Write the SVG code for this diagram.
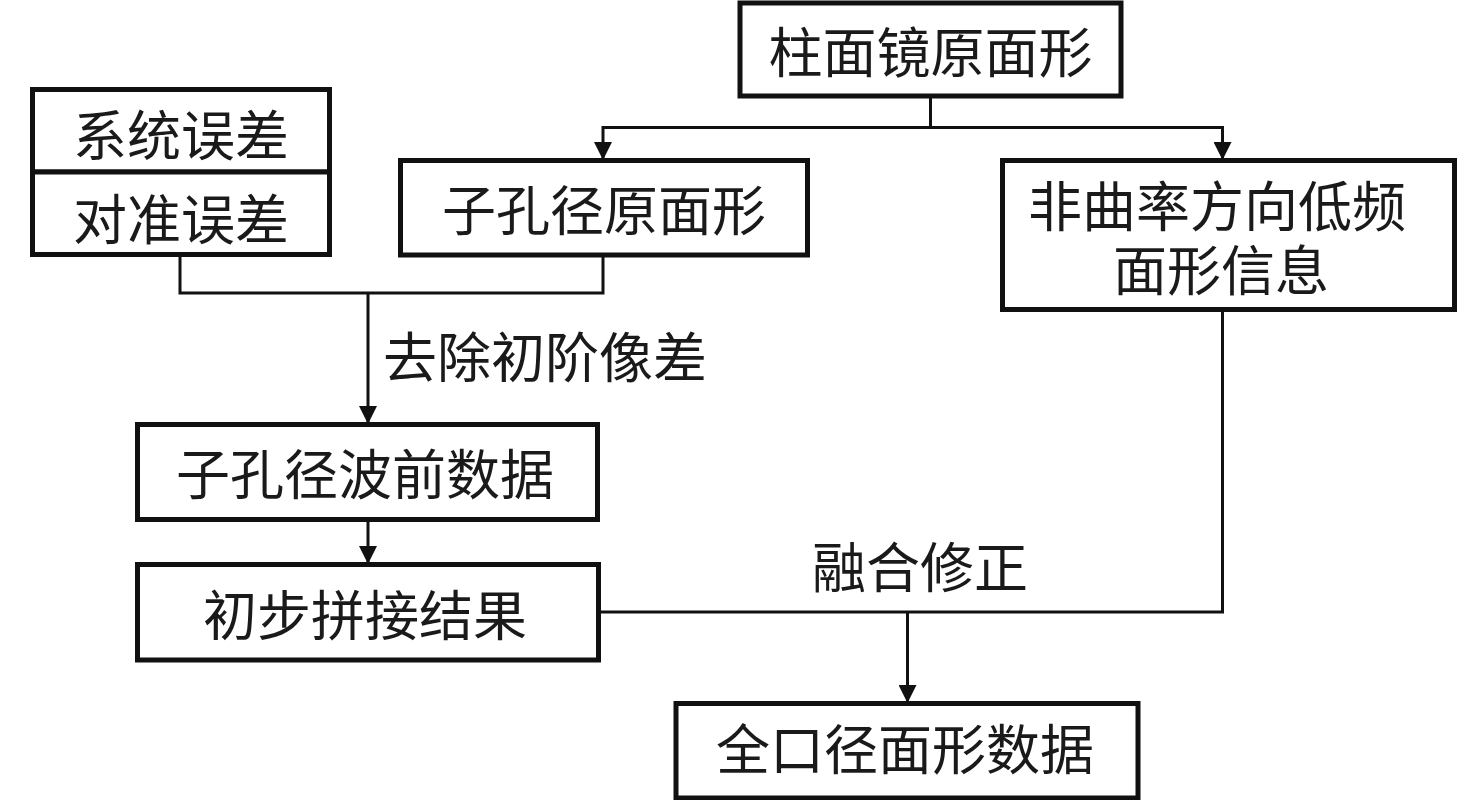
<svg xmlns="http://www.w3.org/2000/svg" width="1476" height="800" viewBox="0 0 1476 800">
<style>
.box{fill:#fff;stroke:#111;stroke-width:5}
.lbl{font-family:"Noto Sans CJK SC","Noto Sans CJK JP",sans-serif;font-size:54px;fill:#1a1a1a;text-anchor:middle;dominant-baseline:central}
.conn{fill:none;stroke:#111;stroke-width:3}
.arr{marker-end:url(#ah)}
</style>
<defs>
<marker id="ah" viewBox="0 0 18 18" refX="18" refY="9" markerWidth="18" markerHeight="18" markerUnits="userSpaceOnUse" orient="auto">
<path d="M0,0 L18,9 L0,18 z" fill="#111"/>
</marker>
</defs>
<rect width="1476" height="800" fill="#fff"/>
<g id="connectors">
<path class="conn" d="M930.5,96 V127.5 M603,127.5 H1222.5"/>
<path class="conn arr" d="M603,126 V160"/>
<path class="conn arr" d="M1222.5,126 V160"/>
<path class="conn" d="M180,254 V293 H603 V255"/>
<path class="conn arr" d="M368,293 V424"/>
<path class="conn arr" d="M368,519 V564"/>
<path class="conn" d="M598,612 H1222.5 V309"/>
<path class="conn arr" d="M907.5,612 V703"/>
<text class="lbl" x="383" y="354" style="text-anchor:start">去除初阶像差</text>
<text class="lbl" x="920" y="564">融合修正</text>
</g>
<g id="n-zhumian">
<rect class="box" x="740" y="3" width="381" height="93"/>
<text class="lbl" x="930.5" y="49">柱面镜原面形</text>
</g>
<g id="n-xitong">
<rect class="box" x="32.5" y="89.5" width="297" height="82.5"/>
<text class="lbl" x="181" y="132">系统误差</text>
</g>
<g id="n-duizhun">
<rect class="box" x="32.5" y="172" width="297" height="82.5"/>
<text class="lbl" x="181" y="216">对准误差</text>
</g>
<g id="n-zikongjing">
<rect class="box" x="400.5" y="160.5" width="407" height="94.5"/>
<text class="lbl" x="604" y="207">子孔径原面形</text>
</g>
<g id="n-feiqulv">
<rect class="box" x="1002.5" y="160.5" width="452" height="149"/>
<text class="lbl"><tspan x="1217" y="203">非曲率方向低频</tspan><tspan x="1221" y="267">面形信息</tspan></text>
</g>
<g id="n-boqian">
<rect class="box" x="137.5" y="424.5" width="460" height="95"/>
<text class="lbl" x="365" y="471">子孔径波前数据</text>
</g>
<g id="n-chubu">
<rect class="box" x="137.5" y="564.5" width="461" height="95.5"/>
<text class="lbl" x="365" y="612">初步拼接结果</text>
</g>
<g id="n-quankou">
<rect class="box" x="676" y="703.5" width="462" height="94.5"/>
<text class="lbl" x="905" y="746">全口径面形数据</text>
</g>
</svg>
